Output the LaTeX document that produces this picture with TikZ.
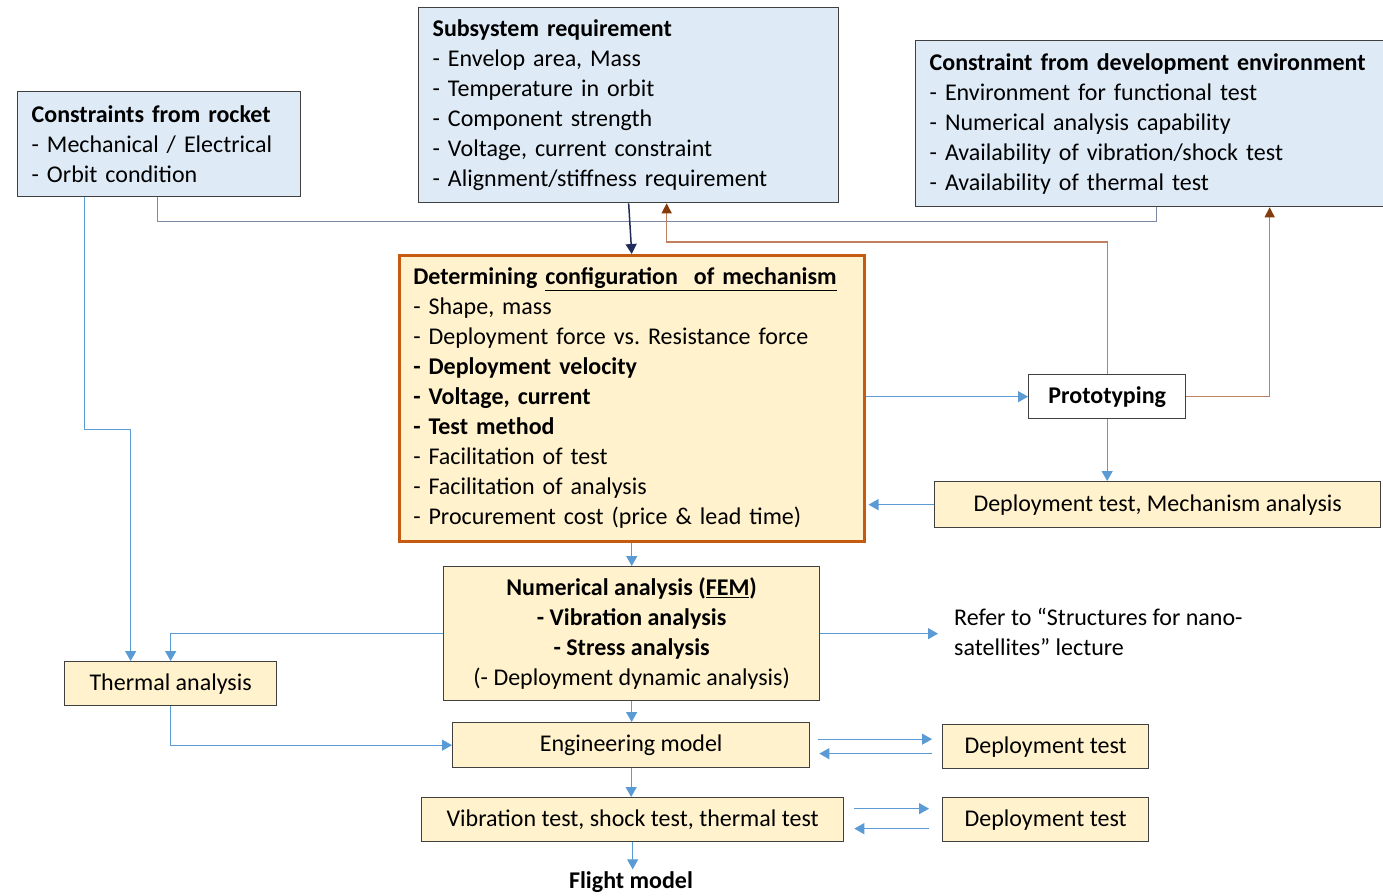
\documentclass[tikz,border=0pt]{standalone}
\usepackage{fontspec}
\setmainfont{Carlito}
\usetikzlibrary{arrows.meta}
\frenchspacing

\definecolor{blueback}{HTML}{DEEBF7}
\definecolor{yellowback}{HTML}{FFF2CC}
\definecolor{orangeline}{HTML}{C55A11}
\definecolor{arrowblue}{HTML}{5B9BD5}
\definecolor{navyline}{HTML}{1F2D5A}
\definecolor{grayline}{HTML}{7F88A6}
\definecolor{brownline}{HTML}{BF8060}
\definecolor{brownhead}{HTML}{843C0C}
\definecolor{boxline}{HTML}{404040}

\begin{document}
\begin{tikzpicture}[x=1pt, y=-1pt, >={Triangle[length=10pt,width=11pt]},
    txt/.style={font=\fontsize{24}{30}\selectfont},
    box/.style={txt, draw=boxline, line width=1.3pt, anchor=north west, inner xsep=14pt, inner ysep=0pt, align=left},
    bluebox/.style={box, fill=blueback},
    yellowbox/.style={box, fill=yellowback},
    flow/.style={->, draw=arrowblue, line width=1.2pt},
    feedback/.style={-{Triangle[length=10pt,width=10pt,color=brownhead]}, draw=brownline, line width=1.3pt}]
    \useasboundingbox (0,0) rectangle (1383,895);

    % requirements and constraints
    \node[bluebox, minimum width=283pt, minimum height=105pt, text width=255pt] (rocket) at (17,91)
        {\textbf{Constraints from rocket}\\- Mechanical / Electrical\\- Orbit condition};
    \node[bluebox, minimum width=420pt, minimum height=195pt, text width=392pt] (subsys) at (418,7)
        {\textbf{Subsystem requirement}\\- Envelop area, Mass\\- Temperature in orbit\\- Component strength\\- Voltage, current constraint\\- Alignment/stiffness requirement};
    \node[bluebox, minimum width=470pt, minimum height=166pt, text width=442pt] (devenv) at (915,40)
        {\textbf{Constraint from development environment}\\- Environment for functional test\\- Numerical analysis capability\\- Availability of vibration/shock test\\- Availability of thermal test};

    % configuration
    \node[yellowbox, draw=orangeline, line width=2.5pt, minimum width=465pt, minimum height=286pt, text width=437pt] (config) at (398,254)
        {\textbf{Determining \underline{configuration\ \ of mechanism}}\\- Shape, mass\\- Deployment force vs. Resistance force\\\textbf{- Deployment velocity}\\\textbf{- Voltage, current}\\\textbf{- Test method}\\- Facilitation of test\\- Facilitation of analysis\\- Procurement cost (price \& lead time)};
    \node[box, fill=white, align=center, minimum width=157pt, minimum height=44pt] (proto) at (1028,374) {\textbf{Prototyping}};
    \node[yellowbox, align=center, minimum width=446pt, minimum height=46pt] (mechtest) at (934,481) {Deployment test, Mechanism analysis};

    % analysis and models
    \node[yellowbox, align=center, minimum width=376pt, minimum height=134pt] (fem) at (443,566)
        {\textbf{Numerical analysis (\underline{FEM})}\\\textbf{- Vibration analysis}\\\textbf{- Stress analysis}\\(- Deployment dynamic analysis)};
    \node[txt, anchor=west, align=left, inner xsep=14pt] (refer) at (940,632)
        {Refer to “Structures for nano-\\satellites” lecture};
    \node[yellowbox, align=center, minimum width=212pt, minimum height=44pt] (thermal) at (64,661) {Thermal analysis};
    \node[yellowbox, align=center, minimum width=357pt, minimum height=45pt] (engmodel) at (452,722) {Engineering model};
    \node[yellowbox, align=center, minimum width=206pt, minimum height=44pt] (deptestA) at (942,724) {Deployment test};
    \node[yellowbox, align=center, minimum width=422pt, minimum height=44pt] (vibtest) at (421,797) {Vibration test, shock test, thermal test};
    \node[yellowbox, align=center, minimum width=206pt, minimum height=44pt] (deptestB) at (942,797) {Deployment test};
    \node[txt, inner sep=2pt] (flight) at (631,882) {\textbf{Flight model}};

    % connectors
    \draw[grayline, line width=1.3pt] ([xshift=-1.5pt]rocket.south) -- ++(0,24) -| ([xshift=6pt]devenv.south);
    \draw[->, navyline, line width=1.5pt] (subsys.south) -- (config.north);
    \draw[feedback] (proto.north) -- ++(0,-132) -| ([xshift=38pt]subsys.south);
    \draw[feedback] (proto.east) -| ([xshift=119pt]devenv.south);
    \draw[flow] (proto.west -| config.east) -- (proto.west);
    \draw[flow] (proto.south) -- (proto.south |- mechtest.north);
    \draw[flow] (mechtest.west) -- ([xshift=3pt]mechtest.west -| config.east);
    \draw[flow] (config.south) -- (config.south |- fem.north);
    \draw[flow] ([xshift=-74.5pt]rocket.south) -- ++(0,232) -| ([xshift=-40pt]thermal.north);
    \draw[flow] (fem.west) -| (thermal.north);
    \draw[flow] (fem.east) -- ([xshift=-2pt]fem.east -| refer.west);
    \draw[flow] (fem.south) -- (fem.south |- engmodel.north);
    \draw[flow] (thermal.south) |- (engmodel.west);
    \draw[flow] ([xshift=8pt,yshift=6pt]engmodel.east) -- ([xshift=-10pt,yshift=6pt]engmodel.east -| deptestA.west);
    \draw[flow] ([xshift=-10pt,yshift=-8.5pt]engmodel.east -| deptestA.west) -- ([xshift=9pt,yshift=-8.5pt]engmodel.east);
    \draw[flow] (engmodel.south) -- (engmodel.south |- vibtest.north);
    \draw[flow] ([xshift=10pt,yshift=11pt]vibtest.east) -- ([xshift=-13pt,yshift=11pt]vibtest.east -| deptestB.west);
    \draw[flow] ([xshift=-13pt,yshift=-9pt]vibtest.east -| deptestB.west) -- ([xshift=10pt,yshift=-9pt]vibtest.east);
    \draw[flow] (vibtest.south) -- (vibtest.south |- flight.north);
\end{tikzpicture}
\end{document}
